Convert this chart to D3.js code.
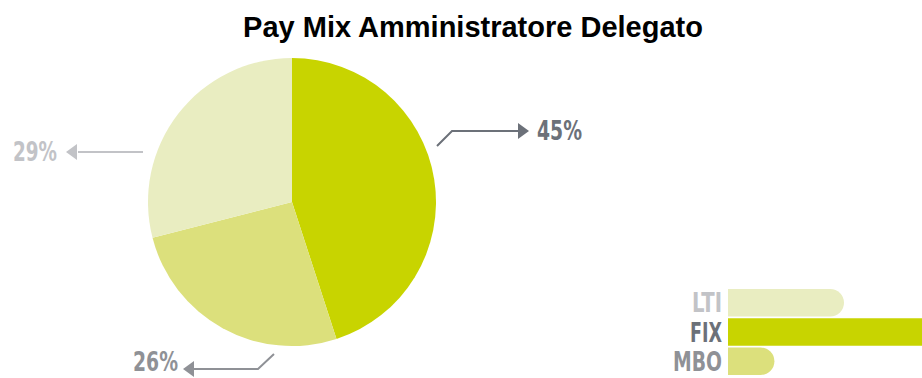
<!DOCTYPE html>
<html>
<head>
<meta charset="utf-8">
<script src="https://cdn.jsdelivr.net/npm/d3@7/dist/d3.min.js"></script>
<style>
  html, body { margin: 0; padding: 0; background: #ffffff; }
  svg { display: block; }
  .cond { font-family: "DejaVu Sans", "Liberation Sans", sans-serif; font-weight: bold; }
</style>
</head>
<body>
<svg id="chart" width="922" height="378"></svg>
<script>
// Pay mix components, in pie order (clockwise from 12 o'clock)
const categories = ["FIX", "MBO", "LTI"];
const shares = [45, 26, 29];
const sliceColors = ["#c8d400", "#dce07c", "#e9edc1"];
const labelColors = ["#6c7179", "#8f9196", "#c2c3c7"];
// Legend rows, top to bottom
const legendCategories = ["LTI", "FIX", "MBO"];

const svg = d3.select("#chart");

svg.append("text")
  .attr("x", 473).attr("y", 37)
  .attr("text-anchor", "middle")
  .style("font-family", "Liberation Sans, Arial, sans-serif")
  .style("font-weight", "bold")
  .style("font-size", "29px")
  .attr("fill", "#000")
  .text("Pay Mix Amministratore Delegato");

// Pie
const cx = 292, cy = 202, R = 144;
const pie = d3.pie().sort(null).startAngle(0).endAngle(2 * Math.PI).value(d => d.value);
const arc = d3.arc().innerRadius(0).outerRadius(R);
const data = categories.map((c, i) => ({ cat: c, value: shares[i], color: sliceColors[i], label: labelColors[i] }));

const g = svg.append("g").attr("transform", `translate(${cx},${cy})`);
g.selectAll("path.slice")
  .data(pie(data))
  .join("path")
  .attr("class", "slice")
  .attr("d", arc)
  .attr("fill", d => d.data.color);

// Condensed bold label: squeeze the glyphs into a fixed run width
function condText(sel, x, y, anchor, width, color, str) {
  return sel.append("text")
    .attr("class", "cond")
    .attr("x", x).attr("y", y)
    .attr("text-anchor", anchor)
    .attr("textLength", width)
    .attr("lengthAdjust", "spacingAndGlyphs")
    .style("font-size", "26px")
    .attr("fill", color)
    .text(str);
}

// Callouts: polyline, arrowhead at tip, label beside it
const callouts = {
  FIX: { pts: [[437, 146], [452, 131], [518, 131]], tip: [529, 131], dir: 1, tx: 537, ty: 140, w: 45 },
  LTI: { pts: [[143, 152], [78, 152]], tip: [66, 152], dir: -1, tx: 57, ty: 161, w: 44 },
  MBO: { pts: [[274, 354], [258, 369], [194, 369]], tip: [183, 369], dir: -1, tx: 178, ty: 371, w: 45 }
};

const byCat = new Map(data.map(d => [d.cat, d]));
categories.forEach(c => {
  const co = callouts[c];
  const d = byCat.get(c);
  svg.append("path")
    .attr("d", d3.line()(co.pts))
    .attr("fill", "none")
    .attr("stroke", d.label)
    .attr("stroke-width", 2);
  const [tx, ty] = co.tip;
  const base = tx - co.dir * 11;
  svg.append("path")
    .attr("d", `M${tx},${ty} L${base},${ty - 8} L${base},${ty + 8} Z`)
    .attr("fill", d.label);
  condText(svg, co.tx, co.ty, co.dir > 0 ? "start" : "end", co.w, d.label, d.value + "%");
});

// Legend bars
const lx = 728;
const barLen = d3.scaleLinear().domain([24, 29]).range([0, 116]);
const rowY = d3.scaleBand().domain(legendCategories).range([289, 375]).paddingInner(0.06);
const labelWidth = { LTI: 30, FIX: 32, MBO: 49 };
const legend = svg.append("g");
legendCategories.forEach(c => {
  const d = byCat.get(c);
  const y = rowY(c), h = rowY.bandwidth();
  const w = barLen(d.value);
  const r = h / 2;
  legend.append("path")
    .attr("d", `M${lx},${y} H${lx + w - r} A${r},${r} 0 0 1 ${lx + w - r},${y + h} H${lx} Z`)
    .attr("fill", d.color);
  condText(legend, lx - 6, y + h / 2 + 9.5, "end", labelWidth[c], d.label, c);
});
</script>
</body>
</html>
